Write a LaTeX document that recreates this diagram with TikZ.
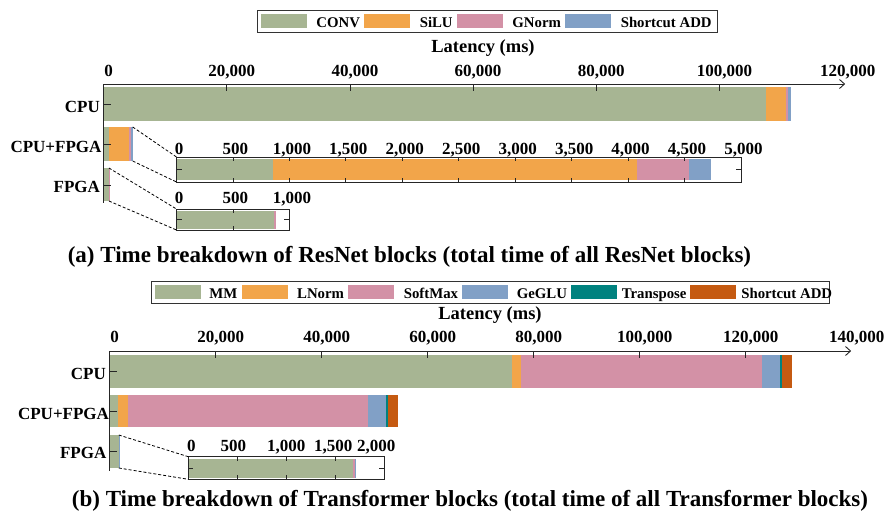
\documentclass[tikz,border=0pt]{standalone}
\usepackage{fontspec}
\setmainfont{Liberation Serif}
\usetikzlibrary{arrows.meta, positioning}

\definecolor{cGreen}{HTML}{A7B593}
\definecolor{cOrange}{HTML}{F2A54A}
\definecolor{cPink}{HTML}{D391A6}
\definecolor{cBlue}{HTML}{81A0C6}
\definecolor{cTeal}{HTML}{00827F}
\definecolor{cRust}{HTML}{C55A11}

\newcommand{\fsz}[1]{\fontsize{#1}{#1}\selectfont}

\tikzset{
  axisline/.style={line width=0.9pt, black!85},
  tickmark/.style={line width=0.8pt, black!85},
  ticklbl/.style={font=\bfseries\fsz{17}, inner sep=0pt, anchor=base},
  catlbl/.style={font=\bfseries\fsz{17}, inner sep=0pt, anchor=base east},
  swatch/.style={minimum width=46pt, minimum height=14pt, inner sep=0pt},
  keylbl/.style={font=\bfseries\fsz{14.8}, inner sep=0pt, text height=13pt, text depth=0pt},
  legbox/.style={draw=black!80, line width=0.9pt},
  zoomline/.style={dash pattern=on 3pt off 2pt, line width=0.8pt},
  axtitle/.style={font=\bfseries\fsz{18.5}, inner sep=0pt, anchor=base},
  caption/.style={font=\bfseries\fsz{23}, inner sep=0pt, anchor=base}
}

\begin{document}
\begin{tikzpicture}[x=1pt, y=-1pt]
\useasboundingbox (0,0) rectangle (886,512);

%%%% (a) ResNet blocks
% legend
\draw[legbox] (257,10) rectangle (717,32);
\node[swatch, fill=cGreen] (kConv) at (284,21) {};
\node[keylbl, right=9pt of kConv] (tConv) {CONV};
\node[swatch, fill=cOrange, right=4pt of tConv] (kSilu) {};
\node[keylbl, right=9pt of kSilu] (tSilu) {SiLU};
\node[swatch, fill=cPink, right=4pt of tSilu] (kGnorm) {};
\node[keylbl, right=9pt of kGnorm] (tGnorm) {GNorm};
\node[swatch, fill=cBlue, right=4pt of tGnorm] (kAddA) {};
\node[keylbl, right=9pt of kAddA] (tAddA) {Shortcut ADD};

\node[axtitle] (latA) at (483,52) {Latency (ms)};

% main axis, x in thousands of ms
\begin{scope}[shift={(103.5,0)}, x=6.16pt]
  \foreach \c/\a/\b in {cGreen/0/107.55, cOrange/107.55/110.8, cPink/110.8/111.12, cBlue/111.12/111.6}
    \fill[\c] (\a,87) rectangle (\b,121);
  \foreach \c/\a/\b in {cGreen/0/0.853, cOrange/0.853/4.082, cPink/4.082/4.543, cBlue/4.543/4.738}
    \fill[\c] (\a,127) rectangle (\b,161);
  \foreach \c/\a/\b in {cGreen/0/0.867, cPink/0.867/0.88}
    \fill[\c] (\a,168) rectangle (\b,201);
  \coordinate (aHybNE) at (4.738,127);
  \coordinate (aHybSE) at (4.738,161);
  \coordinate (aFpgaNE) at (0.88,168);
  \coordinate (aFpgaSE) at (0.88,201);

  \draw[axisline, -{Straight Barb[length=5pt, width=9pt]}] (0,84) -- (120.4,84);
  \draw[axisline] (0,84) -- (0,203);
  \foreach \t in {20,40,60,80,100}
    \draw[tickmark] (\t,84) -- (\t,91);
  \foreach \t/\s [count=\i] in {0/0, 20/{20,000}, 40/{40,000}, 60/{60,000}, 80/{80,000}, 100/{100,000}, 120/{120,000}}
    \node[ticklbl, xshift=5pt] (ta\i) at (\t,76) {\s};

  \foreach \y in {104,144,185}
    \draw[tickmark] (0,\y) -- ++(7pt,0);
  \node[catlbl] (cpuA) at (-0.55,112.7) {CPU};
  \node[catlbl] (hybA) at (-0.3,152.5) {CPU+FPGA};
  \node[catlbl] (fpgaA) at (-0.55,192) {FPGA};
\end{scope}

% zoomed views, x in thousands of ms
\begin{scope}[shift={(176.5,0)}, x=112.9pt]
  \foreach \c/\a/\b in {cGreen/0/0.853, cOrange/0.853/4.082, cPink/4.082/4.543, cBlue/4.543/4.738}
    \fill[\c] (\a,159) rectangle (\b,180);
  \draw[axisline] (0,157) coordinate (zA-nw) rectangle (5,182) coordinate (zA-se);
  \coordinate (zA-sw) at (0,182);
  \foreach \t in {0.5,1,...,4.5} {
    \draw[tickmark] (\t,157) -- (\t,161);
    \draw[tickmark] (\t,182) -- (\t,178);
  }
  \draw[tickmark] (0,169.5) -- ++(5pt,0);
  \draw[tickmark] (5,169.5) -- ++(-5pt,0);
  \foreach \t/\s [count=\i] in {0/0, 0.5/500, 1/{1,000}, 1.5/{1,500}, 2/{2,000}, 2.5/{2,500}, 3/{3,000}, 3.5/{3,500}, 4/{4,000}, 4.5/{4,500}, 5/{5,000}}
    \node[ticklbl, xshift=2.5pt] (za\i) at (\t,154) {\s};

  \foreach \c/\a/\b in {cGreen/0/0.867, cPink/0.867/0.88}
    \fill[\c] (\a,211) rectangle (\b,229);
  \draw[axisline] (0,209) coordinate (zB-nw) rectangle (1,230);
  \coordinate (zB-sw) at (0,230);
  \draw[tickmark] (0.5,209) -- (0.5,213);
  \draw[tickmark] (0.5,230) -- (0.5,226);
  \draw[tickmark] (0,219.5) -- ++(5pt,0);
  \draw[tickmark] (1,219.5) -- ++(-5pt,0);
  \foreach \t/\s [count=\i] in {0/0, 0.5/500, 1/{1,000}}
    \node[ticklbl, xshift=2.5pt] (zb\i) at (\t,203) {\s};
\end{scope}

\draw[zoomline] (aHybNE) -- (zA-nw);
\draw[zoomline] (aHybSE) -- (zA-sw);
\draw[zoomline] (aFpgaNE) -- (zB-nw);
\draw[zoomline] (aFpgaSE) -- (zB-sw);

\node[caption] (capA) at (409.5,262) {(a) Time breakdown of ResNet blocks (total time of all ResNet blocks)};

%%%% (b) Transformer blocks
% legend
\draw[legbox] (151,281) rectangle (829,303);
\node[swatch, fill=cGreen] (kMm) at (178,292) {};
\node[keylbl, right=8pt of kMm] (tMm) {MM};
\node[swatch, fill=cOrange, right=4pt of tMm] (kLnorm) {};
\node[keylbl, right=9pt of kLnorm] (tLnorm) {LNorm};
\node[swatch, fill=cPink, right=4pt of tLnorm] (kSoft) {};
\node[keylbl, right=9pt of kSoft] (tSoft) {SoftMax};
\node[swatch, fill=cBlue, right=4pt of tSoft] (kGeglu) {};
\node[keylbl, right=8pt of kGeglu] (tGeglu) {GeGLU};
\node[swatch, fill=cTeal, right=4pt of tGeglu] (kTrans) {};
\node[keylbl, right=4pt of kTrans] (tTrans) {Transpose};
\node[swatch, fill=cRust, right=3pt of tTrans] (kAddB) {};
\node[keylbl, right=5pt of kAddB] (tAddB) {Shortcut ADD};

\node[axtitle] (latB) at (490,319.5) {Latency (ms)};

\begin{scope}[shift={(109.7,0)}, x=5.3pt]
  \foreach \c/\a/\b in {cGreen/0/75.9, cOrange/75.9/77.6, cPink/77.6/123.07, cBlue/123.07/126.53, cTeal/126.53/126.79, cRust/126.79/128.74}
    \fill[\c] (\a,355) rectangle (\b,388);
  \foreach \c/\a/\b in {cGreen/0/1.62, cOrange/1.62/3.39, cPink/3.39/48.68, cBlue/48.68/52.13, cTeal/52.13/52.45, cRust/52.45/54.34}
    \fill[\c] (\a,395) rectangle (\b,427);
  \foreach \c/\a/\b in {cGreen/0/1.684, cPink/1.684/1.698, cBlue/1.698/1.712}
    \fill[\c] (\a,435) rectangle (\b,468);
  \coordinate (bFpgaNE) at (1.712,435);
  \coordinate (bFpgaSE) at (1.712,468);

  \draw[axisline, -{Straight Barb[length=5pt, width=9pt]}] (0,351) -- (139.9,351);
  \draw[axisline] (0,351) -- (0,471);
  \foreach \t in {20,40,60,80,100,120}
    \draw[tickmark] (\t,351) -- (\t,358);
  \foreach \t/\s [count=\i] in {0/0, 20/{20,000}, 40/{40,000}, 60/{60,000}, 80/{80,000}, 100/{100,000}, 120/{120,000}, 140/{140,000}}
    \node[ticklbl, xshift=5pt] (tb\i) at (\t,342.5) {\s};

  \foreach \y in {371,411.5,451.5}
    \draw[tickmark] (0,\y) -- ++(7pt,0);
  \node[catlbl] (cpuB) at (-0.7,379.5) {CPU};
  \node[catlbl] (hybB) at (-0.1,419.5) {CPU+FPGA};
  \node[catlbl] (fpgaB) at (-0.6,458.5) {FPGA};
\end{scope}

\begin{scope}[shift={(188.3,0)}, x=98pt]
  \foreach \c/\a/\b in {cGreen/0/1.684, cPink/1.684/1.698, cBlue/1.698/1.712}
    \fill[\c] (\a,458.5) rectangle (\b,477.5);
  \draw[axisline] (0,456.7) coordinate (zC-nw) rectangle (2,479.3);
  \coordinate (zC-sw) at (0,479.3);
  \foreach \t in {0.5,1,1.5} {
    \draw[tickmark] (\t,456.7) -- (\t,460.7);
    \draw[tickmark] (\t,479.3) -- (\t,475.3);
  }
  \draw[tickmark] (0,468) -- ++(5pt,0);
  \draw[tickmark] (2,468) -- ++(-5pt,0);
  \foreach \t/\s/\dx [count=\i] in {0/0/3, 0.5/500/-4, 1/{1,000}/0, 1.5/{1,500}/-2, 2/{2,000}/-8}
    \node[ticklbl, xshift=\dx pt] (zc\i) at (\t,451.5) {\s};
\end{scope}

\draw[zoomline] (bFpgaNE) -- (zC-nw);
\draw[zoomline] (bFpgaSE) -- (zC-sw);

\node[caption] (capB) at (470,506.5) {(b) Time breakdown of Transformer blocks (total time of all Transformer blocks)};
\end{tikzpicture}
\end{document}
